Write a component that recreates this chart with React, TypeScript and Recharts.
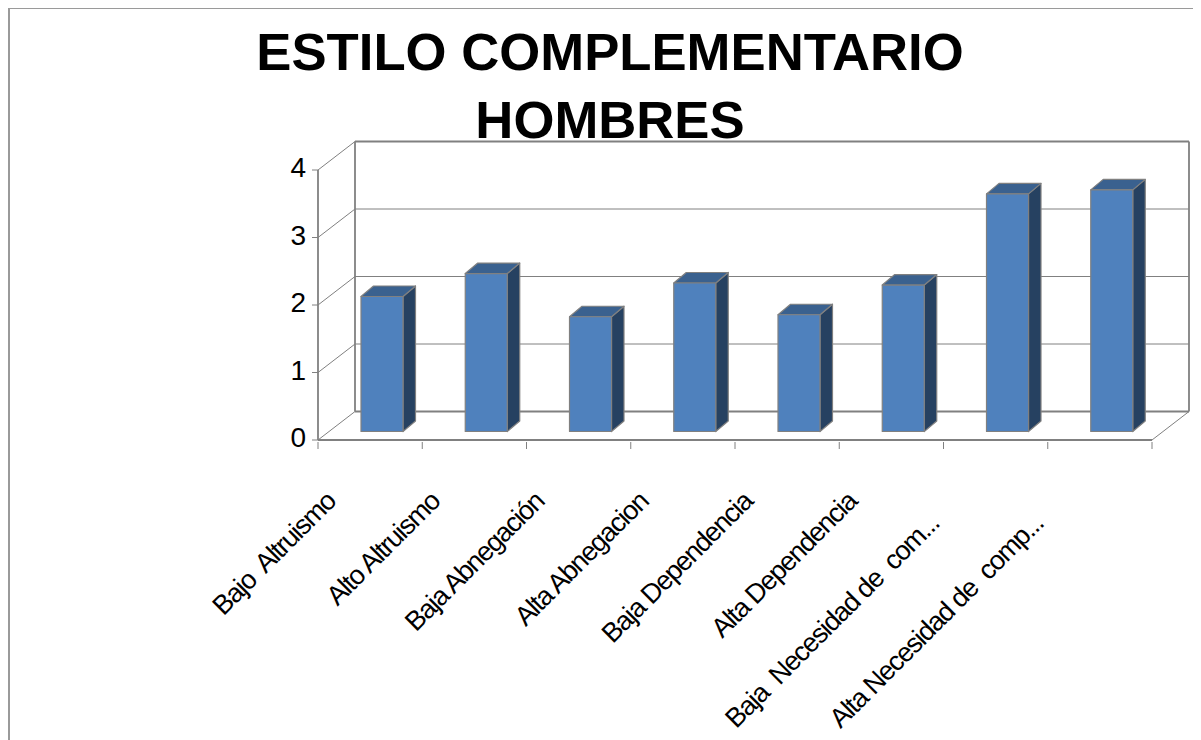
import React from 'react';
import { BarChart, Bar, XAxis, YAxis, CartesianGrid, usePlotArea } from 'recharts';

const categories = [
  'Bajo  Altruismo',
  'Alto Altruismo',
  'Baja Abnegación',
  'Alta Abnegacion',
  'Baja Dependencia',
  'Alta Dependencia',
  'Baja  Necesidad de  com...',
  'Alta Necesidad de  comp...',
];
const values = [2.0, 2.34, 1.7, 2.2, 1.73, 2.17, 3.52, 3.58];
const yTicks = [0, 1, 2, 3, 4];
const titleLines = ['ESTILO COMPLEMENTARIO', 'HOMBRES'];

const data = categories.map((name, i) => ({ name, value: values[i] }));

const WIDTH = 1193;
const HEIGHT = 732;
const FONT = '"Liberation Sans", Arial, sans-serif';
const LINE = '#808080';

// oblique offset of the back wall from the front plane
const WALL_DX = 37;
const WALL_DY = -28.5;
// bar box: where it sits inside the depth, and its own depth
const BAR_SHIFT_X = 12;
const BAR_SHIFT_Y = -8.5;
const BAR_DX = 12.5;
const BAR_DY = -10.5;

function Box3D({ x, y, width, height }: any) {
  const left = x + BAR_SHIFT_X;
  const top = y + BAR_SHIFT_Y;
  const right = left + width;
  const bottom = top + height;
  return (
    <g stroke={LINE} strokeWidth={1.2} strokeLinejoin="round">
      <polygon
        fill="#264161"
        points={`${right},${top} ${right + BAR_DX},${top + BAR_DY} ${right + BAR_DX},${bottom + BAR_DY} ${right},${bottom}`}
      />
      <polygon
        fill="#3A618F"
        points={`${left},${top} ${left + BAR_DX},${top + BAR_DY} ${right + BAR_DX},${top + BAR_DY} ${right},${top}`}
      />
      <rect x={left} y={top} width={width} height={height} fill="#4F81BD" />
    </g>
  );
}

// each horizontal grid line becomes a diagonal on the side wall plus a line on the back wall
function WallLine({ x1, x2, y1, index }: any) {
  const heavy = index === 0 || index === yTicks.length - 1;
  const back = y1 + WALL_DY;
  return (
    <g key={index} stroke={LINE} fill="none">
      <line x1={x1} y1={y1} x2={x1 + WALL_DX} y2={back} strokeWidth={1} />
      <line x1={x1 + WALL_DX} y1={back} x2={x2 + WALL_DX} y2={back} strokeWidth={heavy ? 1.8 : 1} />
    </g>
  );
}

function Walls() {
  const plot = usePlotArea();
  if (!plot) return null;
  const top = plot.y + WALL_DY;
  const bottom = plot.y + plot.height + WALL_DY;
  const leftX = plot.x + WALL_DX;
  const rightX = plot.x + plot.width + WALL_DX;
  const frontBottom = plot.y + plot.height;
  return (
    <g stroke={LINE} fill="none">
      <line x1={leftX} y1={top} x2={leftX} y2={bottom} strokeWidth={1.8} />
      <line x1={rightX} y1={top} x2={rightX} y2={bottom} strokeWidth={1.8} />
      <line x1={plot.x + plot.width} y1={frontBottom} x2={rightX} y2={bottom} strokeWidth={1} />
    </g>
  );
}

function Title() {
  return (
    <g>
      <rect x={1} y={0} width={WIDTH + 40} height={HEIGHT + 40} fill="none" stroke="#9a9a9a" strokeWidth={2} />
      {titleLines.map((line, i) => (
        <text
          key={line}
          x={602}
          y={62 + i * 68}
          textAnchor="middle"
          fontFamily={FONT}
          fontWeight="bold"
          fontSize={52.7}
          fill="#000"
        >
          {line}
        </text>
      ))}
    </g>
  );
}

function CategoryTick({ x, y, payload, index }: any) {
  const step = 834 / categories.length;
  const label: string = payload.value;
  // truncated labels keep a trailing gap, so they end further down the slope
  const slide = label.endsWith('...') ? 22 : 0;
  const isLast = index === categories.length - 1;
  return (
    <g>
      <line x1={x - step / 2} y1={y} x2={x - step / 2} y2={y + 7} stroke={LINE} strokeWidth={1} />
      {isLast && <line x1={x + step / 2} y1={y} x2={x + step / 2} y2={y + 7} stroke={LINE} strokeWidth={1} />}
      <text
        transform={`translate(${x - 33 - slide},${y + 61 + slide}) rotate(-45)`}
        textAnchor="end"
        fontFamily={FONT}
        fontSize={27}
        letterSpacing={-1.3}
        fill="#000"
        style={{ whiteSpace: 'pre' }}
      >
        {label}
      </text>
    </g>
  );
}

function ValueTick({ x, y, payload }: any) {
  return (
    <text x={x - 4} y={y + 7} textAnchor="end" fontFamily={FONT} fontSize={28} fill="#000">
      {payload.value}
    </text>
  );
}

export default function App() {
  return (
    <BarChart
      width={WIDTH}
      height={HEIGHT}
      data={data}
      margin={{ top: 162, right: 49, bottom: 0, left: 250 }}
      barSize={42}
    >
      <Title />
      <CartesianGrid horizontal={WallLine as any} vertical={false} />
      <Walls />
      <XAxis
        dataKey="name"
        interval={0}
        height={300}
        tickSize={0}
        tick={CategoryTick as any}
        axisLine={{ stroke: LINE, strokeWidth: 1.8 }}
        tickLine={false}
      />
      <YAxis
        domain={[0, 4]}
        ticks={yTicks}
        width={60}
        tickSize={6}
        tick={ValueTick as any}
        axisLine={{ stroke: LINE, strokeWidth: 1.8 }}
        tickLine={{ stroke: LINE, strokeWidth: 1 }}
      />
      <Bar dataKey="value" shape={Box3D as any} isAnimationActive={false} />
    </BarChart>
  );
}
